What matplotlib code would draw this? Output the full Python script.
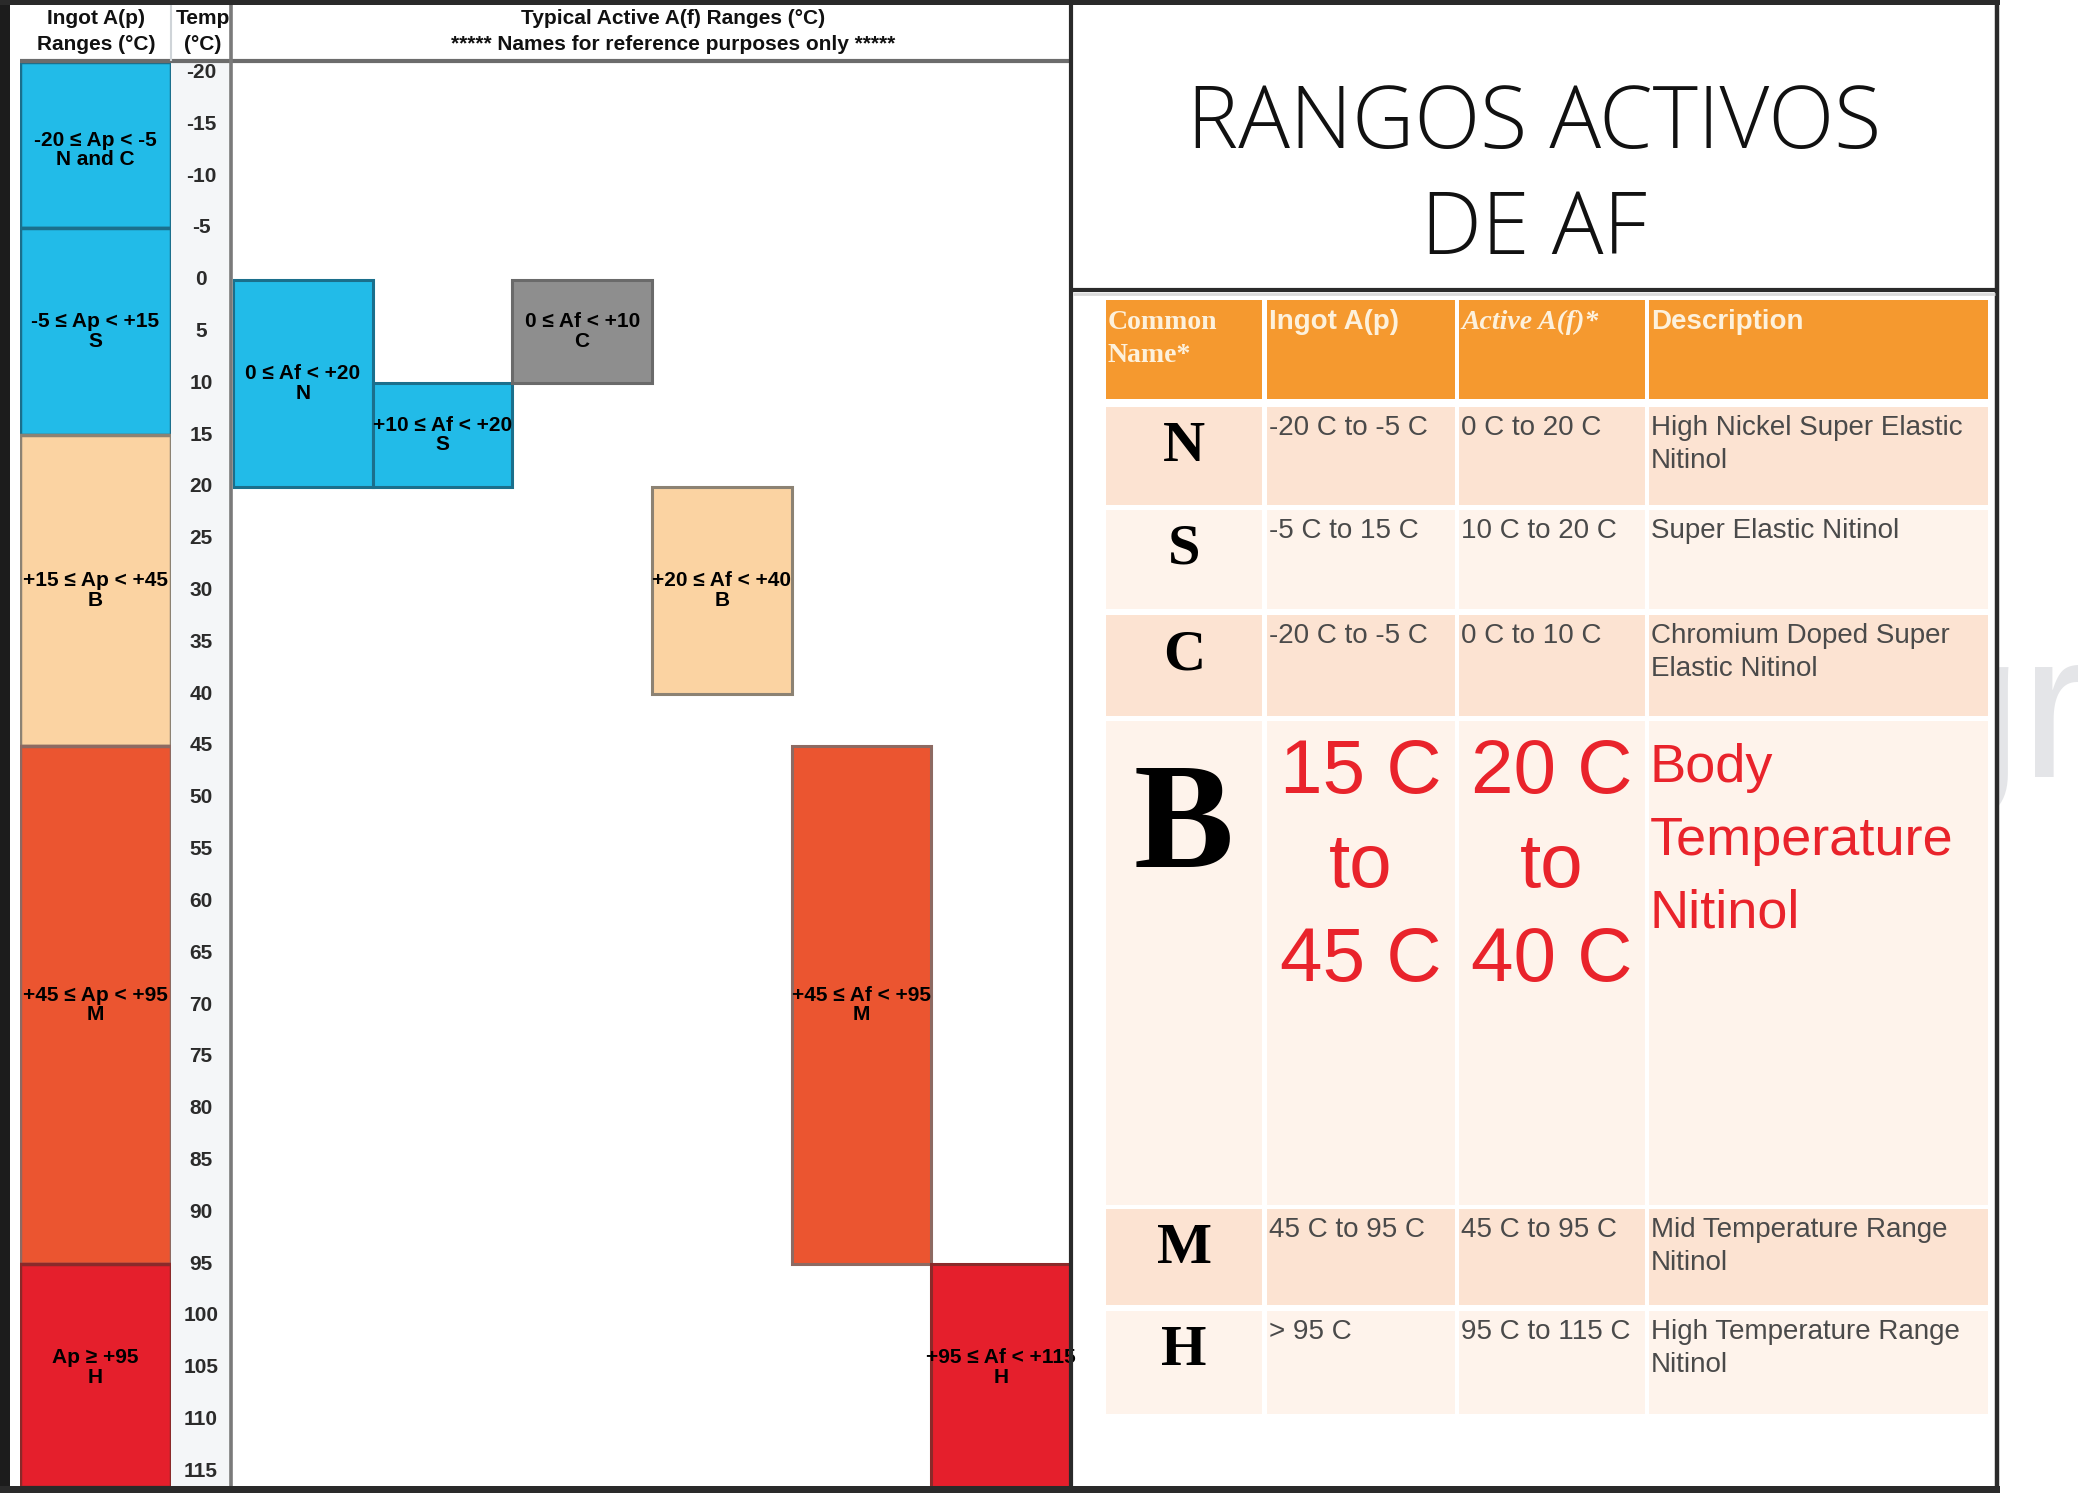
import numpy as np
import matplotlib
matplotlib.use("Agg")
import matplotlib.pyplot as plt
from matplotlib.patches import Rectangle

W, H = 2078, 1493

# temperature scale of the left chart (°C)
temp_ticks = [-20, -15, -10, -5, 0, 5, 10, 15, 20, 25, 30, 35, 40, 45, 50, 55,
              60, 65, 70, 75, 80, 85, 90, 95, 100, 105, 110, 115]

# ingot A(p) ranges
ingot_lo = [-20, -5, 15, 45, 95]
ingot_hi = [-5, 15, 45, 95, 115]
ingot_grp = ["blue", "blue", "peach", "orange", "red"]
ingot_labels = ["-20 ≤ Ap < -5\nN and C", "-5 ≤ Ap < +15\nS", "+15 ≤ Ap < +45\nB",
                "+45 ≤ Ap < +95\nM", "Ap ≥ +95\nH"]

# typical active A(f) ranges, one column per grade
active_lo = [0, 10, 0, 20, 45, 95]
active_hi = [20, 20, 10, 40, 95, 115]
active_grp = ["blue", "blue", "gray", "peach", "orange", "red"]
active_labels = ["0 ≤ Af < +20\nN", "+10 ≤ Af < +20\nS", "0 ≤ Af < +10\nC",
                 "+20 ≤ Af < +40\nB", "+45 ≤ Af < +95\nM", "+95 ≤ Af < +115\nH"]

# table on the right
tbl_header = ["Common\nName*", "Ingot A(p)", "Active A(f)*", "Description"]
tbl_name = ["N", "S", "C", "B", "M", "H"]
tbl_ingot = ["-20 C to -5 C", "-5 C to 15 C", "-20 C to -5 C", "15 C\nto\n45 C",
             "45 C to 95 C", "> 95 C"]
tbl_active = ["0 C to 20 C", "10 C to 20 C", "0 C to 10 C", "20 C\nto\n40 C",
              "45 C to 95 C", "95 C to 115 C"]
tbl_desc = ["High Nickel Super Elastic\nNitinol", "Super Elastic Nitinol",
            "Chromium Doped Super\nElastic Nitinol", "Body\nTemperature\nNitinol",
            "Mid Temperature Range\nNitinol", "High Temperature Range\nNitinol"]
highlight = "B"

title = "RANGOS ACTIVOS\nDE AF"

# colours
fill = {"blue": "#22bbe8", "gray": "#8e8e8e", "peach": "#fbd3a2",
        "orange": "#eb5530", "red": "#e51f2c"}
edge = {"blue": "#1b6f8c", "gray": "#6a6a6a", "peach": "#8c8273",
        "orange": "#8d6a62", "red": "#8a2a2a"}
ORANGE_HDR = "#f5992f"
ROW_DARK = "#fce3d2"
ROW_LIGHT = "#fef3eb"
RED_TXT = "#e9232b"
FRAME = "#2a2a2a"

SANS = "Liberation Sans"
SERIF = "Liberation Serif"

T_TOP, T_BOT = -21.0, 116.5

fig = plt.figure(figsize=(W / 100, H / 100), dpi=100)
fig.patch.set_facecolor("white")

bg = fig.add_axes([0, 0, 1, 1])
bg.set_xlim(0, W)
bg.set_ylim(H, 0)
bg.axis("off")


def px_axes(x0, x1, y0, y1, z=1):
    a = fig.add_axes([x0 / W, 1 - y1 / H, (x1 - x0) / W, (y1 - y0) / H], zorder=z)
    a.set_ylim(T_BOT, T_TOP)
    a.set_xticks([])
    a.set_yticks([])
    for s in a.spines.values():
        s.set_visible(False)
    return a


# ---- left chart -------------------------------------------------------
ax_ing = px_axes(20, 171, 62, 1487)
ax_tmp = px_axes(171, 231, 62, 1487)
ax_act = px_axes(233, 1071, 62, 1487)
ax_tmp.set_facecolor("#f4f6f8")

lo = np.array(ingot_lo, float)
hi = np.array(ingot_hi, float)
lo_d = np.where(lo == lo.min(), T_TOP, lo)   # open ended at both ends of the scale
hi_d = np.where(hi == hi.max(), T_BOT, hi)
ax_ing.set_xlim(0, 1)
ax_ing.bar(np.full(len(lo), 0.5), hi_d - lo_d, bottom=lo_d, width=1.0,
           color=[fill[g] for g in ingot_grp], edgecolor=[edge[g] for g in ingot_grp],
           linewidth=2.5)
for a, b, lab in zip(lo, hi, ingot_labels):
    ax_ing.text(0.5, (a + b) / 2, lab, ha="center", va="center", fontsize=15,
                fontweight="bold", family=SANS, linespacing=1.05, color="black")

ax_tmp.set_xlim(0, 1)
for t in temp_ticks:
    ax_tmp.text(0.5, t, str(t), ha="center", va="center", fontsize=15,
                fontweight="bold", family=SANS, color="#2b2b2b")

alo = np.array(active_lo, float)
ahi = np.array(active_hi, float)
ahi_d = np.where(ahi == ahi.max(), T_BOT, ahi)
cols = np.arange(len(alo)) + 0.5
ax_act.set_xlim(0, len(alo))
ax_act.bar(cols, ahi_d - alo, bottom=alo, width=1.0,
           color=[fill[g] for g in active_grp], edgecolor=[edge[g] for g in active_grp],
           linewidth=2.2)
for c, a, b, lab in zip(cols, alo, ahi, active_labels):
    ax_act.text(c, (a + b) / 2, lab, ha="center", va="center", fontsize=15,
                fontweight="bold", family=SANS, linespacing=1.05, color="black")

# header of the left chart
hdr_kw = dict(ha="center", va="center", fontsize=15, fontweight="bold", family=SANS,
              color="#111111")
for (x, l1, l2) in [(96, "Ingot A(p)", "Ranges (°C)"), (203, "Temp", "(°C)"),
                    (673, "Typical Active A(f) Ranges (°C)",
                     "***** Names for reference purposes only *****")]:
    bg.text(x, 18, l1, **hdr_kw)
    bg.text(x, 45, l2, **hdr_kw)

# ---- right panel ------------------------------------------------------
# faint watermark peeking out beyond the right frame
wm = bg.text(1905, 777, "gr", fontsize=150, family=SANS, color="#e4e5e8",
             va="baseline", ha="left", zorder=0.5)
wm.set_clip_path(Rectangle((2000, 0), W - 2000, H, transform=bg.transData))
bg.add_patch(Rectangle((1071, 0), 927, H, facecolor="white", edgecolor="none", zorder=1))

bg.text(1534, 148, title.split("\n")[0], ha="center", va="baseline", fontsize=62,
        family="Open Sans", fontweight="light", color="#111111", zorder=3)
bg.text(1534, 254, title.split("\n")[1], ha="center", va="baseline", fontsize=62,
        family="Open Sans", fontweight="light", color="#111111", zorder=3)

col_x = [(1106, 1262), (1267, 1455), (1459, 1645), (1649, 1988)]
hdr_row = (300, 399)
row_y = [(407, 505), (510, 609), (615, 716), (721, 1205), (1209, 1305), (1311, 1414)]

for x0, x1 in col_x:
    bg.add_patch(Rectangle((x0, hdr_row[0]), x1 - x0, hdr_row[1] - hdr_row[0],
                           facecolor=ORANGE_HDR, edgecolor="none", zorder=2))
for i, (y0, y1) in enumerate(row_y):
    for x0, x1 in col_x:
        bg.add_patch(Rectangle((x0, y0), x1 - x0, y1 - y0,
                               facecolor=ROW_DARK if i % 2 == 0 else ROW_LIGHT,
                               edgecolor="none", zorder=2))

hdr_style = [dict(family=SERIF, fontweight="bold"), dict(family=SANS, fontweight="bold"),
             dict(family=SERIF, fontweight="bold", style="italic"),
             dict(family=SANS, fontweight="bold")]
for (x0, x1), txt, st in zip(col_x, tbl_header, hdr_style):
    for k, line in enumerate(txt.split("\n")):
        bg.text(x0 + 2, hdr_row[0] + 29 + 33 * k, line, va="baseline", ha="left",
                fontsize=20, color="#fdf1dc", zorder=3, **st)


def cell_lines(x, base, pitch, text, **kw):
    for k, line in enumerate(text.split("\n")):
        bg.text(x, base + pitch * k, line, va="baseline", zorder=3, **kw)


for (y0, y1), nm, ing, act, desc in zip(row_y, tbl_name, tbl_ingot, tbl_active, tbl_desc):
    cx = (col_x[0][0] + col_x[0][1]) / 2
    if nm == highlight:
        bg.text(cx, y0 + 146, nm, ha="center", va="baseline", fontsize=108,
                family=SERIF, fontweight="bold", color="black", zorder=3)
        big = dict(ha="center", fontsize=55, family=SANS, color=RED_TXT)
        cell_lines((col_x[1][0] + col_x[1][1]) / 2, y0 + 72, 94, ing, **big)
        cell_lines((col_x[2][0] + col_x[2][1]) / 2, y0 + 72, 94, act, **big)
        cell_lines(col_x[3][0] + 1, y0 + 61, 73, desc, ha="left", fontsize=39,
                   family=SANS, color=RED_TXT)
    else:
        bg.text(cx, y0 + 54, nm, ha="center", va="baseline", fontsize=42,
                family=SERIF, fontweight="bold", color="black", zorder=3)
        small = dict(ha="left", fontsize=20, family=SANS, color="#4a4a4a")
        cell_lines(col_x[1][0] + 2, y0 + 28, 33, ing, **small)
        cell_lines(col_x[2][0] + 2, y0 + 28, 33, act, **small)
        cell_lines(col_x[3][0] + 2, y0 + 28, 33, desc, **small)

# ---- frames on top ----------------------------------------------------
fr = fig.add_axes([0, 0, 1, 1], zorder=5)
fr.set_xlim(0, W)
fr.set_ylim(H, 0)
fr.axis("off")
fr.patch.set_alpha(0)
fr.add_patch(Rectangle((0, 0), 10, H, facecolor="#1c1c1c", edgecolor="none"))
fr.add_patch(Rectangle((0, 0), 2000, 5, facecolor=FRAME, edgecolor="none"))
fr.add_patch(Rectangle((0, 1486), 2000, 7, facecolor=FRAME, edgecolor="none"))
fr.plot([20, 1071], [61, 61], color="#6c6c6c", lw=3, solid_capstyle="butt")
fr.plot([231, 231], [5, 1486], color="#7a7a7a", lw=2.6, solid_capstyle="butt")
fr.plot([171, 171], [5, 61], color="#cfd4d8", lw=1.5, solid_capstyle="butt")
fr.plot([1071, 1071], [0, H], color=FRAME, lw=3, solid_capstyle="butt")
fr.plot([1997, 1997], [0, H], color=FRAME, lw=3.2, solid_capstyle="butt")
fr.plot([1071, 1997], [290, 290], color=FRAME, lw=3, solid_capstyle="butt")
fr.plot([1073, 1995], [294, 294], color="#d9d9d9", lw=2, solid_capstyle="butt")

fig.savefig("out.png", dpi=100)
